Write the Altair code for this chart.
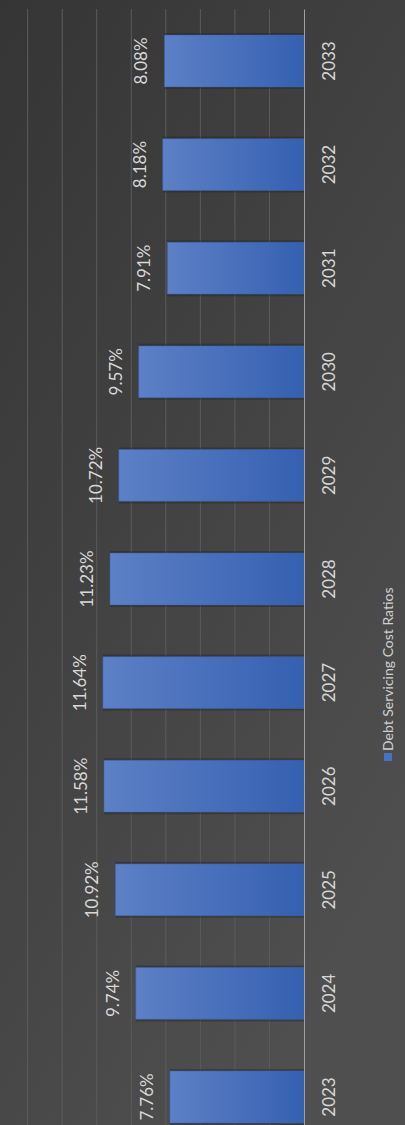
import altair as alt
import pandas as pd

years = ["2023", "2024", "2025", "2026", "2027", "2028", "2029", "2030", "2031", "2032", "2033"]
ratios = [7.76, 9.74, 10.92, 11.58, 11.64, 11.23, 10.72, 9.57, 7.91, 8.18, 8.08]
labels = ["7.76%", "9.74%", "10.92%", "11.58%", "11.64%", "11.23%", "10.72%", "9.57%", "7.91%", "8.18%", "8.08%"]
grid_values = [2, 4, 6, 8, 10, 12, 14, 16]
legend_label = ["Debt Servicing Cost Ratios"]

df = pd.DataFrame({"year": years, "ratio": ratios, "label": labels})
grid_df = pd.DataFrame({"ratio": grid_values})
legend_df = pd.DataFrame({"name": legend_label})
bg_df = pd.DataFrame({"k": [0]})

W, H = 304, 1116
FONT = "Lato"

xscale = alt.Scale(domain=[0, 17.6], reverse=True, nice=False, zero=True)
yscale = alt.Scale(domain=years[::-1], range=[0, 1140], paddingInner=0.5, paddingOuter=0.252)
yaxis = alt.Axis(orient="right", title=None, ticks=False, grid=False,
                 domain=True, domainColor="#a0a0a0", domainWidth=1,
                 labelAngle=270, labelAlign="center", labelBaseline="top",
                 labelPadding=17, labelFont=FONT, labelFontSize=17,
                 labelColor="#d6d6d6", zindex=1)

bg = alt.Chart(bg_df).mark_rect(
    color=alt.LinearGradient(
        gradient="linear",
        stops=[alt.GradientStop(color="#353535", offset=0),
               alt.GradientStop(color="#4f4f4f", offset=1)],
        x1=0, y1=0, x2=0.6, y2=1,
    )
).encode(x=alt.value(0), x2=alt.value(405), y=alt.value(-9), y2=alt.value(H))

grid = alt.Chart(grid_df).mark_rule(color="#5c5c5c", strokeWidth=1).encode(
    x=alt.X("ratio:Q", scale=xscale, axis=None),
    y=alt.value(0), y2=alt.value(H),
)

shadow = alt.Chart(df).mark_bar(color="#1e1e1e", opacity=0.35, size=56).encode(
    x=alt.X("ratio:Q", scale=xscale, axis=None),
    y=alt.Y("year:N", scale=yscale, axis=yaxis),
)

bars = alt.Chart(df).mark_bar(
    color=alt.LinearGradient(
        gradient="linear",
        stops=[alt.GradientStop(color="#5d80c6", offset=0),
               alt.GradientStop(color="#3560b0", offset=1)],
        x1=0, y1=0, x2=1, y2=0,
    ),
    stroke="#3a64b4", strokeWidth=0.5,
).encode(
    x=alt.X("ratio:Q", scale=xscale, axis=None),
    y=alt.Y("year:N", scale=yscale, axis=yaxis),
)

text = alt.Chart(df).mark_text(
    angle=270, align="center", baseline="bottom", dy=-13,
    font=FONT, fontSize=17, color="#d8d8d8",
).encode(
    x=alt.X("ratio:Q", scale=xscale, axis=None),
    y=alt.Y("year:N", scale=yscale, axis=yaxis),
    text="label:N",
)

leg_sq = alt.Chart(legend_df).mark_rect(color="#4472c4").encode(
    x=alt.value(384), x2=alt.value(392), y=alt.value(753 - 9), y2=alt.value(761 - 9),
)
leg_text = alt.Chart(legend_df).mark_text(
    angle=270, align="left", baseline="middle", font=FONT, fontSize=14, color="#d0d0d0",
).encode(x=alt.value(389), y=alt.value(751 - 9), text="name:N")

chart = alt.layer(bg, grid, shadow, bars, text, leg_sq, leg_text).properties(
    width=W, height=H,
    autosize="none",
    padding={"left": 0, "top": 9, "right": 101, "bottom": 0},
    background="#404040",
).configure_view(stroke=None)

chart.save("out.html", embed_options={"renderer": "svg", "actions": False})
